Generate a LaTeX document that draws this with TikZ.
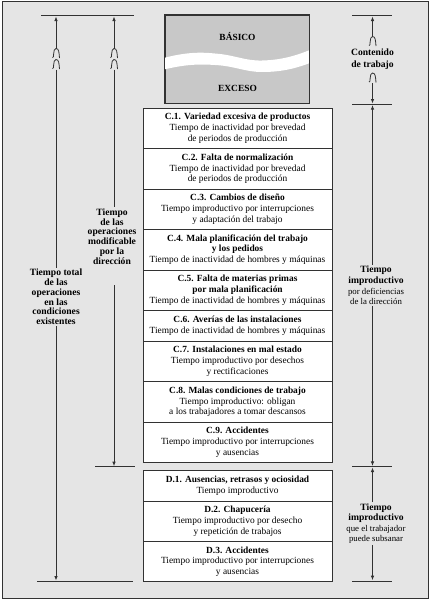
\documentclass[tikz,border=0pt]{standalone}
\usepackage{fontspec}
\setmainfont{Liberation Serif}
\usetikzlibrary{positioning,arrows.meta}
\definecolor{fondo}{RGB}{229,229,229}
\definecolor{grisbase}{RGB}{200,200,200}
\definecolor{trazo}{RGB}{50,50,50}
% break mark on a dimension line
\newcommand{\corte}[2]{\draw[trazo,line width=0.8pt] ({#1-3.5},{#2+4}) .. controls ({#1-1.5},{#2+5.5}) and ({#1-3.5},{#2-5}) .. ({#1},{#2-5}) .. controls ({#1+3},{#2-5}) and ({#1+3},{#2-1}) .. ({#1+3.5},{#2+4.5});}

\begin{document}
\begin{tikzpicture}[x=1pt,y=-1pt,
  caja/.style={draw=trazo,line width=0.8pt,fill=white,minimum width=189pt,inner sep=0pt,outer sep=0pt,align=center,font=\fontsize{9.4}{10.8}\selectfont},
  alta/.style={caja,minimum height=40.4pt},
  baja/.style={caja,minimum height=31pt},
  tope/.style={trazo,line width=0.9pt},
  flecha/.style={trazo,line width=0.8pt,-{Latex[length=4.5pt,width=3.6pt]}},
  linea/.style={trazo,line width=0.8pt},
  rotulo/.style={align=center,inner sep=1pt,font=\fontsize{9.6}{9.8}\selectfont\bfseries},
  nota/.style={align=center,inner sep=1pt,font=\fontsize{8.8}{10.6}\selectfont}
]
\useasboundingbox (0,0) rectangle (430,600);
\draw[trazo,line width=1pt,fill=fondo] (2,1.5) rectangle (428.5,598);

% work content box
\node[draw=trazo,line width=0.8pt,fill=grisbase,minimum width=144pt,minimum height=88pt,inner sep=0pt] (trabajo) at (237,59) {};
\begin{scope}
  \clip (trabajo.north west) rectangle (trabajo.south east);
  \fill[white] (160,59) .. controls (185,52) and (200,52) .. (215,53.5) .. controls (235,55) and (245,61) .. (262,60.5) .. controls (285,60) and (300,54) .. (315,48)
    -- (315,61) .. controls (300,67) and (285,72) .. (262,72) .. controls (245,72) and (235,66) .. (215,65) .. controls (200,64) and (185,64) .. (160,70.5) -- cycle;
\end{scope}
\draw[linea] (trabajo.north west) rectangle (trabajo.south east);
\node[rotulo,font=\fontsize{9.4}{10}\selectfont\bfseries] (basico) at (237.5,37) {BÁSICO};
\node[rotulo,font=\fontsize{9.4}{10}\selectfont\bfseries] (exceso) at (237.5,88) {EXCESO};

% C: deficiencias de la direccion
\node[alta] (c1) at (237.5,128.5) {\textbf{C.1. Variedad excesiva de productos}\\Tiempo de inactividad por brevedad\\de periodos de producción};
\node[alta,below=0pt of c1] (c2) {\textbf{C.2. Falta de normalización}\\Tiempo de inactividad por brevedad\\de periodos de producción};
\node[alta,below=0pt of c2] (c3) {\textbf{C.3. Cambios de diseño}\\Tiempo improductivo por interrupciones\\y adaptación del trabajo};
\node[alta,below=0pt of c3] (c4) {\textbf{C.4. Mala planificación del trabajo}\\\textbf{y los pedidos}\\Tiempo de inactividad de hombres y máquinas};
\node[alta,below=0pt of c4] (c5) {\textbf{C.5. Falta de materias primas}\\\textbf{por mala planificación}\\Tiempo de inactividad de hombres y máquinas};
\node[baja,below=0pt of c5] (c6) {\textbf{C.6. Averías de las instalaciones}\\Tiempo de inactividad de hombres y máquinas};
\node[alta,below=0pt of c6] (c7) {\textbf{C.7. Instalaciones en mal estado}\\Tiempo improductivo por desechos\\y rectificaciones};
\node[alta,below=0pt of c7] (c8) {\textbf{C.8. Malas condiciones de trabajo}\\Tiempo improductivo: obligan\\a los trabajadores a tomar descansos};
\node[alta,below=0pt of c8] (c9) {\textbf{C.9. Accidentes}\\Tiempo improductivo por interrupciones\\y ausencias};

% D: deficiencias del trabajador
\node[baja] (d1) at (237.5,485.5) {\textbf{D.1. Ausencias, retrasos y ociosidad}\\Tiempo improductivo};
\node[alta,below=0pt of d1] (d2) {\textbf{D.2. Chapucería}\\Tiempo improductivo por desecho\\y repetición de trabajos};
\node[alta,below=0pt of d2] (d3) {\textbf{D.3. Accidentes}\\Tiempo improductivo por interrupciones\\y ausencias};

% left dimension lines
\coordinate (bi1) at (41,15.7);  \coordinate (bd1) at (134,15.7);
\coordinate (bi2) at (95,466.7); \coordinate (bd2) at (135,466.7);
\coordinate (bi3) at (37,581);   \coordinate (bd3) at (133,581);
\draw[tope] (bi1) -- (bd1);
\draw[tope] (bi2) -- (bd2);
\draw[tope] (bi3) -- (bd3);

\node[rotulo] (total) at (56,297) {Tiempo total\\de las\\operaciones\\en las\\condiciones\\existentes};
\coordinate (t1) at (56,16.5); \coordinate (t1a) at (56,48.5); \coordinate (t1b) at (56,69.5); \coordinate (t1f) at (56,580.5);
\draw[flecha] (t1a) -- (t1);
\corte{56}{53.5} \corte{56}{64.5}
\draw[linea] (t1b) -- (total.north);
\draw[flecha] (total.south) -- (t1f);

\node[rotulo] (modif) at (112,236.5) {Tiempo\\de las\\operaciones\\modificable\\por la\\dirección};
\coordinate (t2) at (114,16.5); \coordinate (t2a) at (114,48.5); \coordinate (t2b) at (114,69.5);
\coordinate (t2c) at (114,285); \coordinate (t2f) at (114,466.2);
\draw[flecha] (t2a) -- (t2);
\corte{114}{53.5} \corte{114}{64.5}
\draw[linea] (t2b) -- (modif.north -| t2b);
\draw[flecha] (t2c) -- (t2f);

% right dimension lines
\coordinate (ri1) at (352,15.7);  \coordinate (rd1) at (392,15.7);
\coordinate (ri2) at (352,104.3); \coordinate (rd2) at (392,104.3);
\coordinate (ri3) at (352,466.7); \coordinate (rd3) at (392,466.7);
\coordinate (ri4) at (352,581);   \coordinate (rd4) at (392,581);
\foreach \n in {1,...,4} { \draw[tope] (ri\n) -- (rd\n); }

\node[rotulo,font=\fontsize{9.6}{11.5}\selectfont\bfseries] (contenido) at (372.5,59) {Contenido\\de trabajo};
\coordinate (r1) at (372.5,16.5); \coordinate (r1a) at (372.5,36.5);
\coordinate (r1b) at (372.5,83); \coordinate (r1f) at (372.5,103.5);
\draw[flecha] (r1a) -- (r1);
\corte{372.5}{41.5} \corte{372.5}{78}
\draw[flecha] (r1b) -- (r1f);

\node[nota] (deficiencias) at (376,285.5) {{\fontsize{9.6}{10.6}\selectfont\bfseries Tiempo}\\{\fontsize{9.6}{10.6}\selectfont\bfseries improductivo}\\por deficiencias\\de la dirección};
\coordinate (r2) at (372.5,105.1); \coordinate (r2f) at (372.5,465.9);
\draw[flecha] (deficiencias.north -| r2) -- (r2);
\draw[flecha] (deficiencias.south -| r2) -- (r2f);

\node[nota] (subsanar) at (376,523.5) {{\fontsize{9.6}{10.6}\selectfont\bfseries Tiempo}\\{\fontsize{9.6}{10.6}\selectfont\bfseries improductivo}\\que el trabajador\\puede subsanar};
\coordinate (r3) at (372.5,467.5); \coordinate (r3f) at (372.5,580.2);
\draw[flecha] (subsanar.north -| r3) -- (r3);
\draw[flecha] (subsanar.south -| r3) -- (r3f);

\end{tikzpicture}
\end{document}
